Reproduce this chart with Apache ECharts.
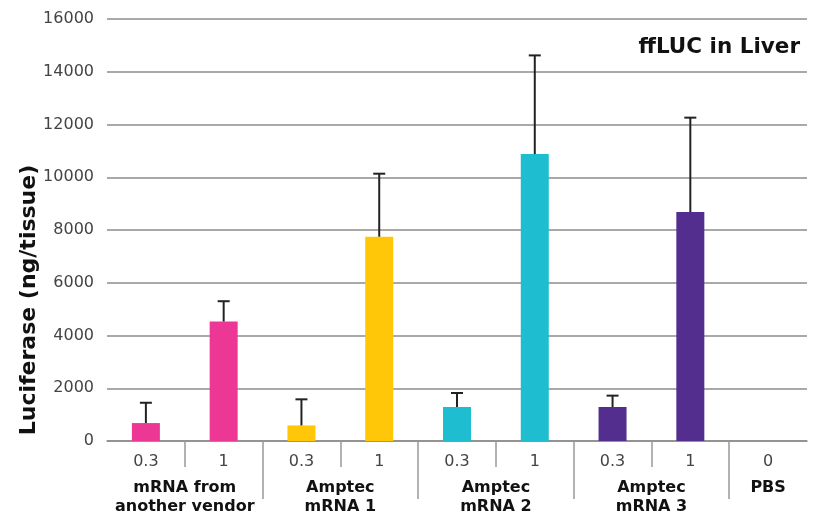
<!DOCTYPE html>
<html>
<head>
<meta charset="utf-8">
<script src="https://cdn.jsdelivr.net/npm/echarts@6/dist/echarts.min.js"></script>
<style>html,body{margin:0;padding:0;background:#fff;}#c{width:822px;height:517px;}</style>
</head>
<body>
<div id="c"></div>
<script>
// ---- data ----
var doseLabels = ['0.3', '1', '0.3', '1', '0.3', '1', '0.3', '1', '0'];
var barValues = [680, 4530, 590, 7745, 1290, 10880, 1290, 8680, 0];
var errPlus = [770, 770, 990, 2390, 530, 3740, 430, 3580, 0];
var groupNames = ['mRNA from\nanother vendor', 'Amptec\nmRNA 1', 'Amptec\nmRNA 2', 'Amptec\nmRNA 3', 'PBS'];
var groupSizes = [2, 2, 2, 2, 1];
var yTicks = [0, 2000, 4000, 6000, 8000, 10000, 12000, 14000, 16000];

// ---- styles ----
var groupColors = ['#EC3894', '#FFC708', '#1EBED0', '#532E8E', '#888888'];
var FONT = '"DejaVu Sans", Verdana, sans-serif';

// derive group boundaries / centres from group sizes
var groupOfBar = [], inner = [], bounds = [], centres = [];
var acc = 0;
groupSizes.forEach(function (s, g) {
  for (var k = 0; k < s; k++) { groupOfBar.push(g); if (k > 0) inner.push(acc + k); }
  centres.push(acc + s / 2);
  acc += s;
  if (acc < doseLabels.length) bounds.push(acc);
});

var barData = barValues.map(function (v, i) {
  return { value: v, itemStyle: { color: groupColors[groupOfBar[i]] } };
});
var errData = barValues.map(function (v, i) { return [i, v, v + errPlus[i]]; })
  .filter(function (d, i) { return errPlus[i] > 0; });

var chart = echarts.init(document.getElementById('c'));
chart.setOption({
  animation: false,
  textStyle: { fontFamily: FONT },
  grid: { left: 107, right: 15, top: 19, bottom: 76 },
  title: {
    text: 'ffLUC in Liver', right: 17, top: 31,
    textStyle: { fontFamily: FONT, fontSize: 21.5, fontWeight: 'bold', color: '#111' }
  },
  graphic: [{
    type: 'text', x: 29, y: 300, rotation: Math.PI / 2,
    style: {
      text: 'Luciferase (ng/tissue)', fill: '#111',
      font: 'bold 22px ' + FONT, textAlign: 'center', textVerticalAlign: 'middle'
    }
  }],
  xAxis: [{
    type: 'category', data: doseLabels, position: 'bottom',
    axisLine: { lineStyle: { color: '#8c8c8c', width: 1.5 } },
    axisTick: { show: false },
    axisLabel: { color: '#444', fontSize: 16, margin: 13, fontFamily: FONT }
  }, {
    type: 'value', min: 0, max: doseLabels.length, position: 'bottom', gridIndex: 0,
    axisLine: { show: false }, splitLine: { show: false },
    axisTick: { show: true, customValues: inner, length: 26, lineStyle: { color: '#999', width: 1.5 } },
    axisLabel: { show: false }
  }, {
    type: 'value', min: 0, max: doseLabels.length, position: 'bottom', gridIndex: 0,
    axisLine: { show: false }, splitLine: { show: false },
    axisTick: { show: true, customValues: bounds, length: 58, lineStyle: { color: '#999', width: 1.5 } },
    axisLabel: {
      show: true, customValues: centres, margin: 37,
      fontSize: 16, fontWeight: 'bold', color: '#111', lineHeight: 19, fontFamily: FONT,
      formatter: function (v) {
        var i = centres.indexOf(v);
        return i >= 0 ? groupNames[i] : '';
      }
    }
  }],
  yAxis: {
    type: 'value', min: yTicks[0], max: yTicks[yTicks.length - 1], interval: yTicks[1] - yTicks[0],
    axisLine: { show: false }, axisTick: { show: false },
    splitLine: { lineStyle: { color: '#8c8c8c', width: 1.5 } },
    axisLabel: {
      color: '#444', fontSize: 16, margin: 13, fontFamily: FONT,
      formatter: function (v) { return String(v); }
    }
  },
  series: [{
    type: 'bar', xAxisIndex: 0, data: barData, barWidth: '36%', z: 2
  }, {
    type: 'custom', xAxisIndex: 0, data: errData, z: 3,
    encode: { x: 0, y: [1, 2] },
    renderItem: function (params, api) {
      var x = api.value(0);
      var base = api.coord([x, api.value(1)]);
      var top = api.coord([x, api.value(2)]);
      var half = 6;
      var st = { stroke: '#222', lineWidth: 2 };
      return {
        type: 'group',
        children: [
          { type: 'line', shape: { x1: base[0], y1: base[1], x2: top[0], y2: top[1] }, style: st },
          { type: 'line', shape: { x1: top[0] - half, y1: top[1], x2: top[0] + half, y2: top[1] }, style: st }
        ]
      };
    }
  }]
});
</script>
</body>
</html>
